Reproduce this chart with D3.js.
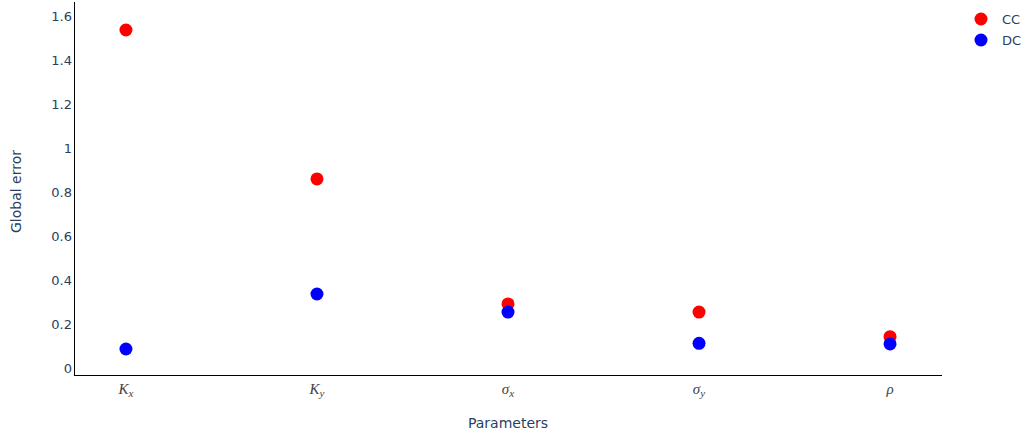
<!DOCTYPE html>
<html>
<head>
<meta charset="utf-8">
<script src="https://cdn.jsdelivr.net/npm/d3@7"></script>
<style>
  html, body { margin: 0; padding: 0; background: #fff; }
  svg { display: block; }
</style>
</head>
<body>
<svg id="chart" width="1026" height="436"></svg>
<script>
// Parameter names (symbol + subscript) and global error per method
const parameters = ["Kx", "Ky", "sx", "sy", "rho"];
const paramSymbols = [
  { base: "K", sub: "x" },
  { base: "K", sub: "y" },
  { base: "\u03C3", sub: "x" },
  { base: "\u03C3", sub: "y" },
  { base: "\u03C1", sub: "" }
];
const ccValues = [1.534, 0.857, 0.289, 0.252, 0.14];
const dcValues = [0.084, 0.334, 0.252, 0.110, 0.107];
const yTicks = [0, 0.2, 0.4, 0.6, 0.8, 1, 1.2, 1.4, 1.6];
const seriesNames = ["CC", "DC"];
const seriesColors = ["#ff0000", "#0000ff"];

(function () {
  const svg = d3.select("#chart");
  const plotLeft = 74, plotRight = 942, plotTop = 2, plotBottom = 375;
  const tickColor = "#2a3f5f";
  const uiFont = "'DejaVu Sans', Verdana, sans-serif";

  // categorical x with padded range
  const x = d3.scaleLinear().domain([-0.272, parameters.length - 1 + 0.272]).range([plotLeft, plotRight]);
  const y = d3.scaleLinear().domain([0, 1.6]).range([367.5, 15.5]);

  // axis lines
  svg.append("line").attr("x1", plotLeft + 0.5).attr("x2", plotLeft + 0.5).attr("y1", plotTop).attr("y2", plotBottom + 1)
    .attr("stroke", "#000").attr("stroke-width", 1);
  svg.append("line").attr("x1", plotLeft).attr("x2", plotRight).attr("y1", plotBottom + 0.5).attr("y2", plotBottom + 0.5)
    .attr("stroke", "#000").attr("stroke-width", 1.2);

  // y tick labels
  const yAxis = d3.axisLeft(y).tickValues(yTicks).tickSize(0).tickPadding(0).tickFormat(d3.format("~g"));
  const gy = svg.append("g").attr("transform", `translate(${plotLeft - 2},0)`).call(yAxis);
  gy.select(".domain").remove();
  gy.selectAll("text").attr("font-family", uiFont)
    .attr("font-size", 13).attr("fill", tickColor).attr("dy", "0.35em");

  // x tick labels (math-style italic symbols)
  const xl = svg.append("g");
  parameters.forEach((p, i) => {
    const t = xl.append("text").attr("x", x(i)).attr("y", 394)
      .attr("text-anchor", "middle")
      .attr("font-family", "'Liberation Serif', 'DejaVu Serif', serif")
      .attr("font-style", "italic").attr("font-size", 15).attr("fill", "#444");
    t.append("tspan").text(paramSymbols[i].base);
    if (paramSymbols[i].sub) {
      t.append("tspan").attr("font-size", 11).attr("dy", 3).text(paramSymbols[i].sub);
    }
  });

  // axis titles
  svg.append("text").attr("x", (plotLeft + plotRight) / 2).attr("y", 428).attr("text-anchor", "middle")
    .attr("font-family", uiFont).attr("font-size", 14)
    .attr("fill", tickColor).text("Parameters");
  svg.append("text").attr("transform", `translate(21,${(plotTop + plotBottom) / 2 + 3}) rotate(-90)`)
    .attr("text-anchor", "middle")
    .attr("font-family", uiFont).attr("font-size", 14)
    .attr("fill", tickColor).text("Global error");

  // markers
  [ccValues, dcValues].forEach((vals, s) => {
    svg.append("g").selectAll("circle").data(vals).join("circle")
      .attr("cx", (d, i) => x(i)).attr("cy", d => y(d)).attr("r", 6.5)
      .attr("fill", seriesColors[s]);
  });

  // legend
  const lg = svg.append("g").attr("transform", "translate(981,19)");
  seriesNames.forEach((n, i) => {
    const g = lg.append("g").attr("transform", `translate(0,${i * 21})`);
    g.append("circle").attr("r", 6.5).attr("fill", seriesColors[i]);
    g.append("text").attr("x", 21).attr("dy", "0.35em")
      .attr("font-family", uiFont).attr("font-size", 13)
      .attr("fill", tickColor).text(n);
  });
})();
</script>
</body>
</html>
